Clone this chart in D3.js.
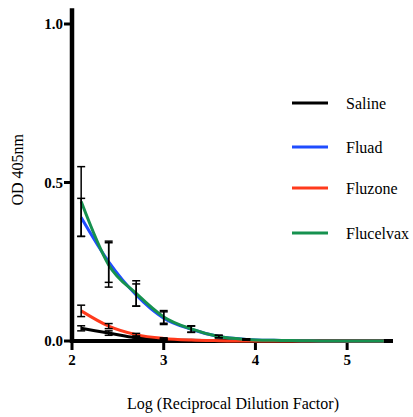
<!DOCTYPE html>
<html>
<head>
<meta charset="utf-8">
<script src="https://cdn.jsdelivr.net/npm/d3@7"></script>
<style>
  body { margin: 0; background: #fff; }
  svg text { font-family: "Liberation Serif", "Times New Roman", Times, serif; }
  .tick-text { font-weight: bold; font-size: 15px; }
  .axis-label { font-size: 16px; }
  .legend-text { font-size: 16px; }
</style>
</head>
<body>
<div id="chart"></div>
<script>
const dilutions = [2.1, 2.4, 2.7, 3.0, 3.3, 3.6, 3.9, 4.2, 4.5, 4.8, 5.1, 5.4];
const seriesNames = ["Saline", "Fluad", "Fluzone", "Flucelvax"];
const seriesColors = ["#000000", "#1f4cff", "#ff3a1c", "#16914f"];

const salineMean = [0.040, 0.025, 0.010, 0.004, 0.002, 0.001, 0, 0, 0, 0, 0, 0];
const salineErr = [0.008, 0.007, 0.004, 0.002, 0, 0, 0, 0, 0, 0, 0, 0];
const fluadMean = [0.390, 0.250, 0.145, 0.072, 0.037, 0.014, 0.005, 0.002, 0.001, 0, 0, 0];
const fluadErr = [0.060, 0.065, 0.035, 0.020, 0.010, 0.004, 0.002, 0, 0, 0, 0, 0];
const fluzoneMean = [0.095, 0.047, 0.020, 0.008, 0.003, 0.001, 0, 0, 0, 0, 0, 0];
const fluzoneErr = [0.018, 0.008, 0.004, 0.002, 0, 0, 0, 0, 0, 0, 0, 0];
const flucelvaxMean = [0.440, 0.240, 0.150, 0.076, 0.038, 0.014, 0.005, 0.002, 0.001, 0, 0, 0];
const flucelvaxErr = [0.110, 0.070, 0.040, 0.020, 0.010, 0.004, 0.002, 0, 0, 0, 0, 0];

const means = [salineMean, fluadMean, fluzoneMean, flucelvaxMean];
const errs = [salineErr, fluadErr, fluzoneErr, flucelvaxErr];

const xTicks = [2, 3, 4, 5];
const yTicks = [0, 0.5, 1.0];

const width = 413;
const height = 417;

const xScale = d3.scaleLinear().domain([2, 5.5]).range([72, 393]);
const yScale = d3.scaleLinear().domain([0, 1]).range([341, 24]);

const svg = d3.select("#chart")
  .append("svg")
  .attr("width", width)
  .attr("height", height)
  .style("display", "block");

// axes
svg.append("line")
  .attr("x1", xScale(2)).attr("x2", xScale(2))
  .attr("y1", yScale(0) + 2).attr("y2", yScale(1.05))
  .attr("stroke", "#000").attr("stroke-width", 4.5);

svg.append("line")
  .attr("x1", xScale(2) - 2).attr("x2", xScale(5.5))
  .attr("y1", yScale(0)).attr("y2", yScale(0))
  .attr("stroke", "#000").attr("stroke-width", 4);

svg.selectAll(".y-tick")
  .data(yTicks)
  .enter()
  .append("line")
  .attr("x1", xScale(2) - 8).attr("x2", xScale(2))
  .attr("y1", (d) => yScale(d)).attr("y2", (d) => yScale(d))
  .attr("stroke", "#000").attr("stroke-width", 3);

svg.selectAll(".y-label")
  .data(yTicks)
  .enter()
  .append("text")
  .attr("class", "tick-text")
  .attr("x", xScale(2) - 9)
  .attr("y", (d) => yScale(d))
  .attr("dy", "0.35em")
  .attr("text-anchor", "end")
  .text((d) => d.toFixed(1));

svg.selectAll(".x-tick")
  .data(xTicks)
  .enter()
  .append("line")
  .attr("x1", (d) => xScale(d)).attr("x2", (d) => xScale(d))
  .attr("y1", yScale(0)).attr("y2", yScale(0) + 9)
  .attr("stroke", "#000").attr("stroke-width", 3);

svg.selectAll(".x-label")
  .data(xTicks)
  .enter()
  .append("text")
  .attr("class", "tick-text")
  .attr("x", (d) => xScale(d))
  .attr("y", yScale(0) + 24)
  .attr("text-anchor", "middle")
  .text((d) => d);

svg.append("text")
  .attr("class", "axis-label")
  .attr("text-anchor", "middle")
  .attr("x", 233)
  .attr("y", 409)
  .text("Log (Reciprocal Dilution Factor)");

svg.append("text")
  .attr("class", "axis-label")
  .attr("text-anchor", "middle")
  .attr("transform", `translate(23,${yScale(0.54)}) rotate(-90)`)
  .text("OD 405nm");

// curves
const line = d3.line()
  .x((d) => xScale(d[0]))
  .y((d) => yScale(d[1]))
  .curve(d3.curveMonotoneX);

means.forEach((m, i) => {
  const pts = dilutions.map((x, j) => [x, m[j]]);
  svg.append("path")
    .attr("d", line(pts))
    .attr("fill", "none")
    .attr("stroke", seriesColors[i])
    .attr("stroke-width", 3);
});

// error bars
means.forEach((m, i) => {
  const g = svg.append("g");
  dilutions.forEach((x, j) => {
    if (errs[i][j] <= 0) return;
    const cx = xScale(x);
    const top = yScale(m[j] + errs[i][j]);
    const bot = yScale(m[j] - errs[i][j]);
    g.append("line").attr("x1", cx).attr("x2", cx).attr("y1", top).attr("y2", bot)
      .attr("stroke", "#000").attr("stroke-width", 1.5);
    [top, bot].forEach((y) => {
      g.append("line").attr("x1", cx - 4).attr("x2", cx + 4).attr("y1", y).attr("y2", y)
        .attr("stroke", "#000").attr("stroke-width", 1.5);
    });
  });
});

// legend
const legendY = [103, 147, 188, 233];
seriesNames.forEach((name, i) => {
  const g = svg.append("g").attr("transform", `translate(292,${legendY[i]})`);
  g.append("line")
    .attr("x1", 0).attr("x2", 36)
    .attr("stroke", seriesColors[i])
    .attr("stroke-width", 3);
  g.append("text")
    .attr("class", "legend-text")
    .attr("x", 54)
    .attr("dy", "0.35em")
    .text(name);
});
</script>
</body>
</html>
